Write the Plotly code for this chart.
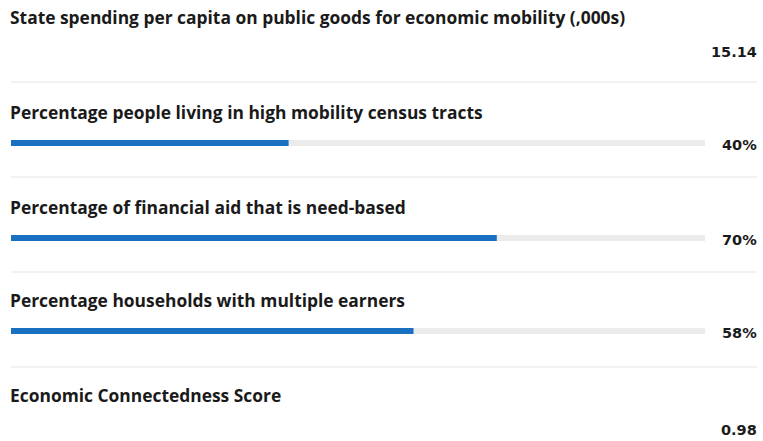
import plotly.graph_objects as go

labels = [
    "State spending per capita on public goods for economic mobility (,000s)",
    "Percentage people living in high mobility census tracts",
    "Percentage of financial aid that is need-based",
    "Percentage households with multiple earners",
    "Economic Connectedness Score",
]
values = [15.14, 40, 70, 58, 0.98]
value_text = ["15.14", "40%", "70%", "58%", "0.98"]
has_bar = [False, True, True, True, False]

W, H = 763, 441
row_top = [17, 112, 207, 300, 395]   # title centre (px)
row_gap_bar = 31
row_gap_val = 35
sep_y = [82, 177, 272, 367]

fig = go.Figure()
bar_rows = [i for i in range(len(labels)) if has_bar[i]]
bar_y = [row_top[i] + row_gap_bar for i in bar_rows]
fig.add_trace(go.Bar(
    x=[100] * len(bar_rows), y=bar_y, orientation="h", width=6,
    marker=dict(color="#ebebeb", line=dict(width=0)), hoverinfo="skip",
))
fig.add_trace(go.Bar(
    x=[values[i] for i in bar_rows], y=bar_y, orientation="h", width=6,
    marker=dict(color="#1a70c0", line=dict(width=0)),
))

annotations = []
for i, lab in enumerate(labels):
    annotations.append(dict(
        x=0, xref="paper", y=row_top[i], yref="y", text=f"<b>{lab}</b>",
        showarrow=False, xanchor="left", yanchor="middle", xshift=-3,
        font=dict(family="Open Sans", size=17.4, color="#1a1a1a"),
    ))
    vy = row_top[i] + (row_gap_bar + 2 if has_bar[i] else row_gap_val)
    annotations.append(dict(
        x=(756 - 11) / 694, xref="paper", y=vy, yref="y", text=f"<b>{value_text[i]}</b>",
        showarrow=False, xanchor="right", yanchor="middle", xshift=3,
        font=dict(family="DejaVu Sans", size=14.5, color="#1a1a1a"),
    ))

shapes = []
for y in sep_y:
    shapes.append(dict(type="line", xref="paper", x0=0, x1=(757 - 11) / 694,
                       yref="y", y0=y, y1=y, line=dict(color="#eeeeee", width=1.5)))

fig.update_layout(
    width=W, height=H, margin=dict(l=11, r=58, t=0, b=0),
    paper_bgcolor="white", plot_bgcolor="white",
    barmode="overlay", showlegend=False,
    xaxis=dict(range=[0, 100], visible=False, fixedrange=True),
    yaxis=dict(range=[H, 0], visible=False, fixedrange=True),
    annotations=annotations, shapes=shapes,
)
fig.write_html("out.html", config={"displayModeBar": False},
               post_script="document.body.style.margin='0';document.body.style.padding='0';")
